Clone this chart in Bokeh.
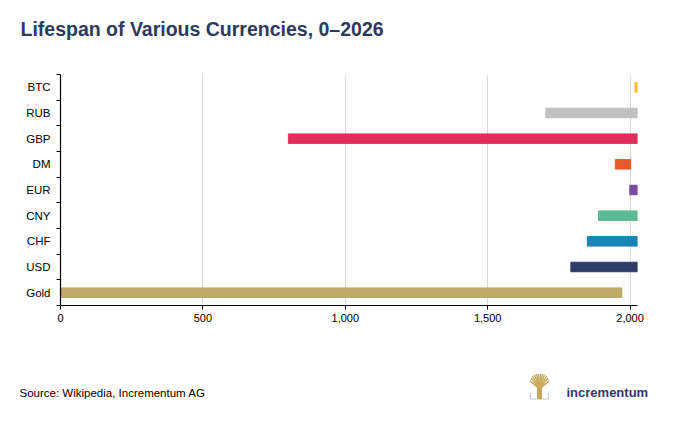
from bokeh.plotting import figure
from bokeh.models import FixedTicker, ColumnDataSource, NumeralTickFormatter, Range1d
from bokeh.layouts import column
from bokeh.core.properties import value
from bokeh.embed import file_html
from bokeh.resources import INLINE

currencies = ["Gold", "USD", "CHF", "CNY", "EUR", "DM", "GBP", "RUB", "BTC"]
start_year = [0, 1792, 1850, 1889, 1999, 1948, 800, 1704, 2017]
end_year = [1971, 2026, 2026, 2026, 2026, 2002, 2026, 2026, 2026]
colors = ["#bfa96a", "#2b3d66", "#1a84b8", "#5cba96", "#7a4a9e", "#e65a2a", "#e0305a", "#c0c0c0", "#f2c230"]
x_ticks = [0, 500, 1000, 1500, 2000]
title_text = "Lifespan of Various Currencies, 0\u20132026"
source_text = "Source: Wikipedia, Incrementum AG"
logo_text = "incrementum"

W = 680
FONT = "Liberation Sans"


def blank(h):
    f = figure(width=W, height=h, output_backend="svg", toolbar_location=None,
               x_range=Range1d(0, W), y_range=Range1d(0, h),
               x_axis_type=None, y_axis_type=None, frame_align=False,
               min_border=0, min_border_left=0, min_border_right=0,
               min_border_top=0, min_border_bottom=0)
    f.outline_line_color = None
    f.grid.grid_line_color = None
    f.background_fill_color = "white"
    f.border_fill_color = "white"
    return f


# header
HH = 60
head = blank(HH)
head.text(x=[20], y=[HH - 28.5], text=[title_text], text_font=value(FONT),
          text_font_style="bold", text_font_size="19.5px", text_color="#2d3a5e",
          text_baseline="alphabetic", text_align="left")

# main chart
MH = 280
pos = [i + 0.5 for i in range(len(currencies))]
src = ColumnDataSource(dict(y=pos, left=start_year, right=end_year, color=colors))

p = figure(width=W, height=MH, output_backend="svg", toolbar_location=None,
           x_range=Range1d(0, 2026), y_range=Range1d(0, len(currencies)),
           frame_align=False,
           min_border_left=60, min_border_right=43, min_border_top=14, min_border_bottom=35)
p.outline_line_color = None
p.background_fill_color = "white"
p.border_fill_color = "white"

p.hbar(y="y", left="left", right="right", height=0.37, color="color", source=src)

p.xaxis.ticker = FixedTicker(ticks=x_ticks, minor_ticks=[])
p.xaxis.formatter = NumeralTickFormatter(format="0,0")
p.xaxis.major_tick_in = 0
p.xaxis.major_tick_out = 4
p.xaxis.axis_line_color = "black"
p.xaxis.axis_line_width = 1.2
p.xaxis.major_tick_line_color = "black"
p.xaxis.major_label_text_font = FONT
p.xaxis.major_label_text_font_size = "11px"
p.xaxis.major_label_text_color = "black"
p.xaxis.major_label_standoff = 4

p.yaxis.ticker = FixedTicker(ticks=pos, minor_ticks=list(range(len(currencies) + 1)))
p.yaxis.major_label_overrides = {v: c for v, c in zip(pos, currencies)}
p.yaxis.major_tick_in = 0
p.yaxis.major_tick_out = 0
p.yaxis.minor_tick_in = 0
p.yaxis.minor_tick_out = 4
p.yaxis.minor_tick_line_color = "black"
p.yaxis.axis_line_color = "black"
p.yaxis.axis_line_width = 1.2
p.yaxis.major_label_text_font = FONT
p.yaxis.major_label_text_font_size = "11.5px"
p.yaxis.major_label_text_color = "black"
p.yaxis.major_label_standoff = 6

p.ygrid.grid_line_color = None
p.xgrid.grid_line_color = "#d9d9d9"
p.xgrid.ticker = FixedTicker(ticks=x_ticks[1:])

# footer
FH = 86
foot = blank(FH)
top = 426 - FH  # page y of footer top


def fy(page_y):
    return FH - (page_y - top) + 4.5


foot.text(x=[19], y=[fy(396.5)], text=[source_text], text_font=value(FONT),
          text_font_size="11.5px", text_color="black", text_baseline="alphabetic")
foot.text(x=[566], y=[fy(396.5)], text=[logo_text], text_font=value(FONT),
          text_font_style="bold", text_font_size="13px", text_color="#2d3a6b",
          text_baseline="alphabetic")

# logo icon (decoration)
gold = "#c8a95a"
tips_x = [529.5, 530.5, 532, 534, 536, 538, 540, 542, 544, 546, 547.5, 548.5]
tips_y = [385, 382, 380, 378.5, 378, 378, 378, 378, 378.5, 380, 382, 385]
foot.segment(x0=[539] * len(tips_x), y0=[fy(393)] * len(tips_x),
             x1=tips_x, y1=[fy(t) for t in tips_y], line_color=gold, line_width=1.4)
foot.quad(left=[537], right=[541], top=[fy(390)], bottom=[fy(403)], color=gold)
foot.multi_line(xs=[[530, 530, 536], [542, 548, 548]],
                ys=[[fy(397), fy(403), fy(403)], [fy(403), fy(403), fy(397)]],
                line_color="#c8c8c8", line_width=1.2)

layout = column(head, p, foot, spacing=0)
open("out.html", "w").write(file_html(layout, INLINE))
